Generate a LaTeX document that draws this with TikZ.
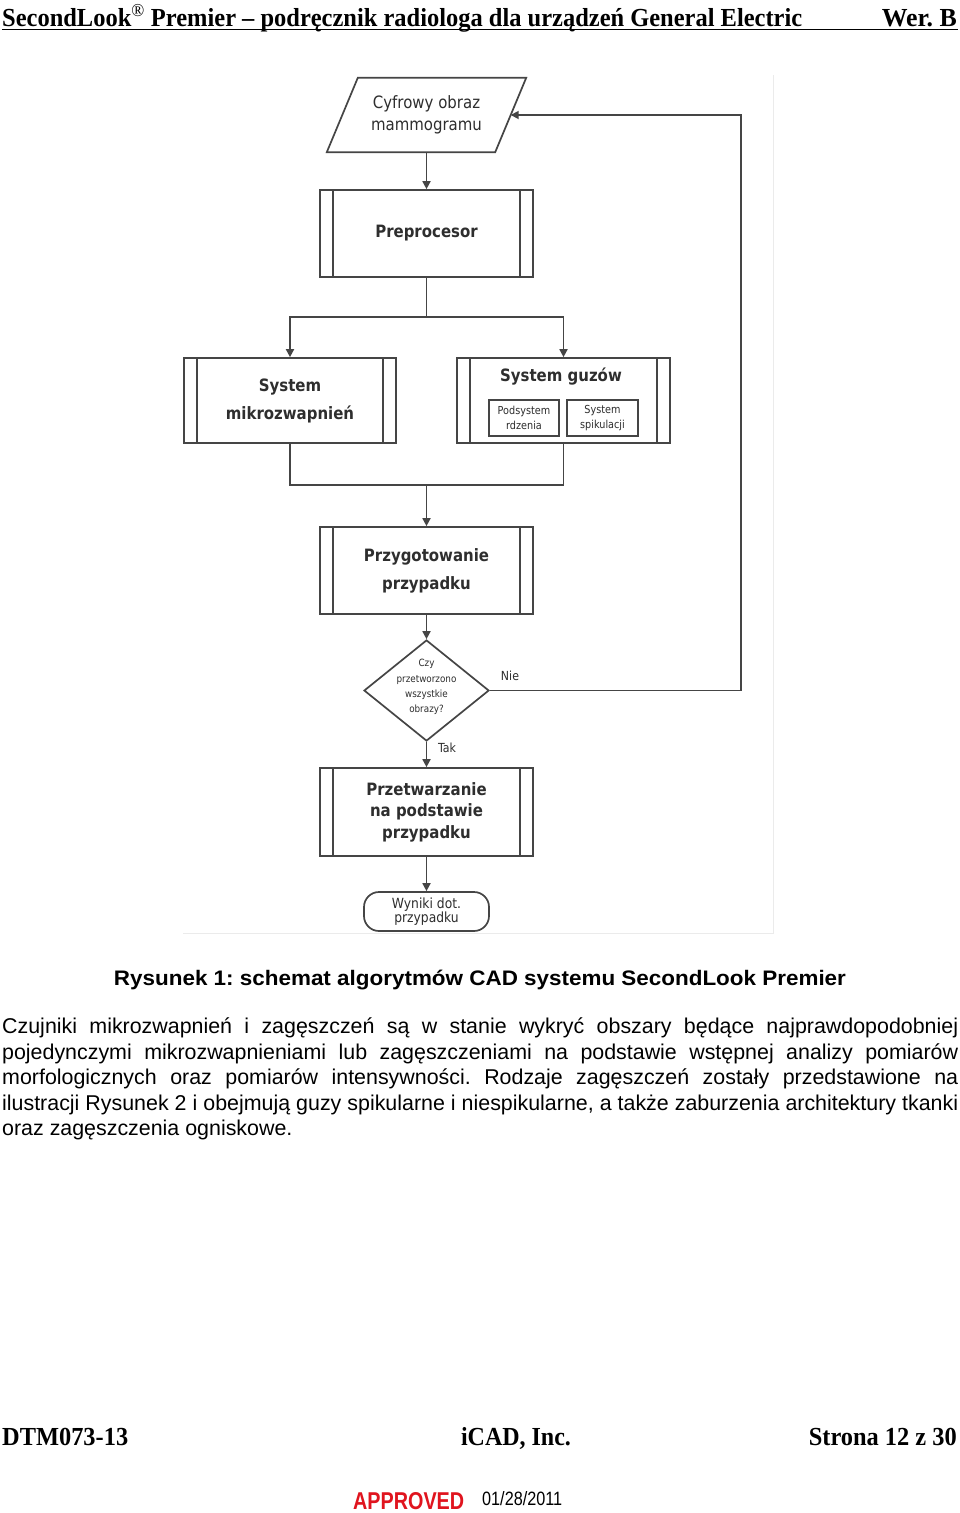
\documentclass[tikz,border=0pt]{standalone}
\usepackage{fontspec}
\usepackage{graphicx}
\setmainfont{Liberation Serif}
\newfontfamily\dfont{DejaVu Sans}[FakeStretch=0.88]
\newfontfamily\afont{Liberation Sans}
\newfontfamily\nfont{Liberation Sans}
\usetikzlibrary{arrows.meta,shapes.geometric,calc}
\definecolor{ln}{HTML}{454545}
\definecolor{tx}{HTML}{2E2E2E}
\definecolor{apr}{HTML}{E0141E}
\definecolor{frm}{HTML}{EBEBEB}
\tikzset{
  conn/.style={ln, line width=1.7pt},
  arr/.style={ln, line width=1.7pt, -{Triangle[length=8pt,width=8pt]}},
  procbox/.style={draw=ln, line width=1.7pt, minimum width=213pt, minimum height=87pt, inner sep=0pt,
    path picture={\draw[ln, line width=1.7pt]
      ([xshift=13pt]path picture bounding box.north west) -- ([xshift=13pt]path picture bounding box.south west)
      ([xshift=-13pt]path picture bounding box.north east) -- ([xshift=-13pt]path picture bounding box.south east);}},
  btxt/.style={font={\dfont\bfseries\fontsize{17}{28}\selectfont}, text=tx, align=center},
  subbox/.style={draw=ln, line width=1.3pt, minimum width=70pt, minimum height=36pt, inner sep=0pt,
    font={\dfont\fontsize{11}{15}\selectfont}, text=tx, align=center},
  lbl/.style={font={\dfont\fontsize{12.5}{14}\selectfont}, text=tx, inner sep=0pt},
  body/.style={anchor=base west, inner sep=0pt, font={\afont\fontsize{21.4}{25}\selectfont}},
}
\begin{document}
\frenchspacing
\begin{tikzpicture}[x=1pt,y=-1pt]
\useasboundingbox (0,0) rectangle (960,1513);
\fill[white] (0,0) rectangle (960,1513);

% header
\node[anchor=base west, inner sep=0pt] (hdr) at (2,26)
  {\fontsize{26}{30}\selectfont\resizebox{800pt}{\height}{\bfseries SecondLook\textsuperscript{\mdseries\textregistered} Premier – podręcznik radiologa dla urządzeń General Electric}};
\node[anchor=base east, inner sep=0pt] (wer) at (957,26)
  {\fontsize{26}{30}\selectfont\resizebox{75pt}{\height}{\bfseries Wer. B}};
\draw[black, line width=1.5pt] (2,29.5) -- (958,29.5);

% frame of the figure
\draw[frm, line width=1pt] (183,933) -- (773,933) -- (773,75);

% input parallelogram
\node[font={\dfont\fontsize{17}{22}\selectfont}, text=tx, align=center, minimum width=199pt, minimum height=74pt, inner sep=0pt] (in) at (426.5,115) {Cyfrowy obraz\\mammogramu};
\draw[conn] ([xshift=31pt]in.north west) -- (in.north east) -- ([xshift=-31pt]in.south east) -- (in.south west) -- cycle;
\coordinate (inr) at ($(in.north east)!0.5!([xshift=-31pt]in.south east)$);

% boxes
\node[procbox, btxt] (pre) at (426.5,233.5) {Preprocesor};
\node[procbox, btxt, minimum width=212pt, minimum height=85pt] (mikro) at (290,400.5) {System\\mikrozwapnień};
\node[procbox, minimum height=85pt] (guz) at (563.5,400.5) {};
\node[btxt] (guzt) at (561,377) {System guzów};
\node[subbox] (sub1) at (524,418) {Podsystem\\rdzenia};
\node[subbox, minimum width=71pt] (sub2) at (602.5,418) {System\\spikulacji};
\node[procbox, btxt] (prep) at (426.5,570.5) {Przygotowanie\\przypadku};
\node[diamond, draw=ln, line width=1.7pt, minimum width=125pt, minimum height=101pt, inner sep=0pt] (dec) at (426.5,690.5) {};
\node[font={\dfont\fontsize{10}{15.3}\selectfont}, text=tx, align=center, inner sep=0pt] (dect) at (426.5,687) {Czy\\przetworzono\\wszystkie\\obrazy?};
\node[procbox, btxt, minimum height=88pt, font={\dfont\bfseries\fontsize{17}{21.5}\selectfont}] (proc) at (426.5,812) {Przetwarzanie\\na podstawie\\przypadku};
\node[draw=ln, line width=1.7pt, rounded corners=15pt, minimum width=125pt, minimum height=39pt, inner sep=0pt,
  font={\dfont\fontsize{14}{14}\selectfont}, text=tx, align=center] (out) at (426.5,911.5) {Wyniki dot.\\przypadku};

\node[lbl] (nie) at (510,676) {Nie};
\node[lbl] (tak) at (447,748) {Tak};

% connectors
\coordinate (s1) at (426.5,317);
\coordinate (m1) at (426.5,485);
\draw[arr] (in.south) -- (pre.north);
\draw[conn] (pre.south) -- (s1);
\draw[arr] (s1) -| (mikro.north);
\draw[arr] (s1) -| (guz.north);
\draw[conn] (mikro.south) |- (m1);
\draw[conn] (guz.south) |- (m1);
\draw[arr] (m1) -- (prep.north);
\draw[arr] (prep.south) -- (dec.north);
\draw[arr] (dec.south) -- (proc.north);
\draw[arr] (proc.south) -- (out.north);
\draw[arr] (dec.east) -| ([xshift=230.5pt]inr) -- (inr);

% caption
\node[anchor=base, inner sep=0pt] (cap) at (480,985)
  {\afont\fontsize{21}{25}\selectfont\resizebox{732pt}{\height}{\bfseries Rysunek 1: schemat algorytmów CAD systemu SecondLook Premier}};

% body text
\node[body] (b1) at (2,1033.5) {\makebox[956pt][s]{Czujniki mikrozwapnień i zagęszczeń są w stanie wykryć obszary będące najprawdopodobniej}};
\node[body] (b2) at (2,1059) {\makebox[956pt][s]{pojedynczymi mikrozwapnieniami lub zagęszczeniami na podstawie wstępnej analizy pomiarów}};
\node[body] (b3) at (2,1084.5) {\makebox[956pt][s]{morfologicznych oraz pomiarów intensywności. Rodzaje zagęszczeń zostały przedstawione na}};
\node[body] (b4) at (2,1110) {\makebox[956pt][s]{ilustracji Rysunek 2 i obejmują guzy spikularne i niespikularne, a także zaburzenia architektury tkanki}};
\node[body] (b5) at (2,1135.5) {oraz zagęszczenia ogniskowe.};

% footer
\node[anchor=base west, inner sep=0pt] (f1) at (2,1445) {\fontsize{26}{30}\selectfont\resizebox{126pt}{\height}{\bfseries DTM073-13}};
\node[anchor=base, inner sep=0pt] (f2) at (516,1445) {\fontsize{26}{30}\selectfont\resizebox{110pt}{\height}{\bfseries iCAD, Inc.}};
\node[anchor=base east, inner sep=0pt] (f3) at (957,1445) {\fontsize{26}{30}\selectfont\resizebox{148pt}{\height}{\bfseries Strona 12 z 30}};
\node[anchor=base west, inner sep=0pt, text=apr] (apv) at (353,1509) {\nfont\bfseries\resizebox{111pt}{17pt}{APPROVED}};
\node[anchor=base west, inner sep=0pt] (dat) at (482,1505) {\nfont\resizebox{80pt}{14pt}{01/28/2011}};
\end{tikzpicture}
\end{document}
